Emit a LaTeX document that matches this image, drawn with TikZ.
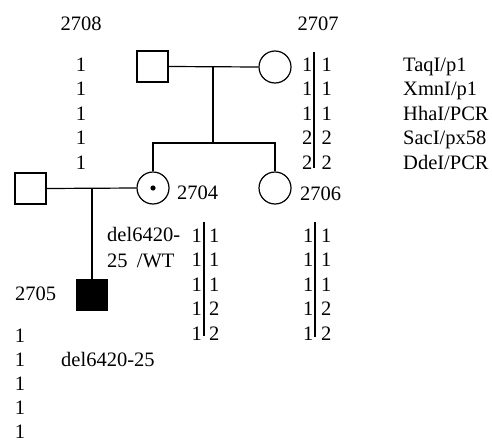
\documentclass[tikz,border=0pt]{standalone}
\usepackage{fontspec}
\setmainfont{Liberation Serif}
\begin{document}
\begin{tikzpicture}[x=1pt,y=-1pt,
  every node/.style={font=\fontsize{20.5}{24}\selectfont},
  txt/.style={inner sep=0pt},
  male/.style={draw,line width=1.2pt,minimum size=31pt,inner sep=0pt},
  female/.style={draw,circle,line width=1.2pt,minimum size=32pt,inner sep=0pt},
  affected/.style={male,fill=black},
  ped/.style={line width=1.2pt},
  bar/.style={line width=1.4pt}]
\useasboundingbox (0,0) rectangle (492,439);
% individuals
\node[male] (m2708) at (152.5,66.5) {};
\node[female] (f2707) at (275,67) {};
\node[female] (f2704) at (153,188) {};
\node[female] (f2706) at (275,188) {};
\node[male] (mleft) at (30.5,188.5) {};
\node[affected] (p2705) at (92,295) {};
\fill (f2704.center) circle (2.6pt);
% pedigree lines
\coordinate (c1) at (213,67);
\coordinate (c2) at (213,143);
\coordinate (s1) at (153,143);
\coordinate (s2) at (275,143);
\coordinate (c3) at (92,188);
\draw[ped] (m2708.east) -- (f2707.west);
\draw[ped] (c1) -- (c2);
\draw[ped] (f2704.north) -- (s1) -- (s2) -- (f2706.north);
\draw[ped] (mleft.east) -- (f2704.west);
\draw[ped] (c3) -- (p2705.north);
% labels
\node[txt,anchor=base] (l2708) at (81,30) {2708};
\node[txt,anchor=base] (l2707) at (318,30) {2707};
\node[txt,anchor=base west] (l2704) at (177,199) {2704};
\node[txt,anchor=base west] (l2706) at (300,200) {2706};
\node[txt,anchor=base west] (l2705) at (15,300) {2705};
\node[txt,anchor=base west] (d1) at (107,241) {del6420-};
\node[txt,anchor=base west] (d2) at (107,267) {25\hspace{0.45em}/WT};
\node[txt,anchor=base west] (d3) at (61,366.5) {del6420-25};
% 2708 alleles
\foreach \i in {0,...,4}
  \node[txt,anchor=base] (a2708-\i) at (81,71+24.5*\i) {1};
% 2707 alleles and markers
\draw[bar] (314,52) -- (314,168);
\foreach \l/\r/\m [count=\i from 0] in {1/1/TaqI\slash p1,1/1/XmnI\slash p1,1/1/HhaI\slash PCR,2/2/SacI\slash px58,2/2/DdeI\slash PCR}{
  \node[txt,anchor=base east] (a2707l-\i) at (312.5,71+24.5*\i) {\l};
  \node[txt,anchor=base west] (a2707r-\i) at (321.5,71+24.5*\i) {\r};
  \node[txt,anchor=base west] (mk-\i) at (403,71+24.5*\i) {\m};
}
% 2704 alleles
\draw[bar] (204,222) -- (204,336);
\foreach \l/\r [count=\i from 0] in {1/1,1/1,1/1,1/2,1/2}{
  \node[txt,anchor=base east] (a2704l-\i) at (202,242+24.5*\i) {\l};
  \node[txt,anchor=base west] (a2704r-\i) at (209,242+24.5*\i) {\r};
}
% 2706 alleles
\draw[bar] (315,222) -- (315,337);
\foreach \l/\r [count=\i from 0] in {1/1,1/1,1/1,1/2,1/2}{
  \node[txt,anchor=base east] (a2706l-\i) at (313.5,242+24.5*\i) {\l};
  \node[txt,anchor=base west] (a2706r-\i) at (321,242+24.5*\i) {\r};
}
% 2705 alleles
\foreach \i in {0,...,4}
  \node[txt,anchor=base] (a2705-\i) at (20,342+24.2*\i) {1};
\end{tikzpicture}
\end{document}
